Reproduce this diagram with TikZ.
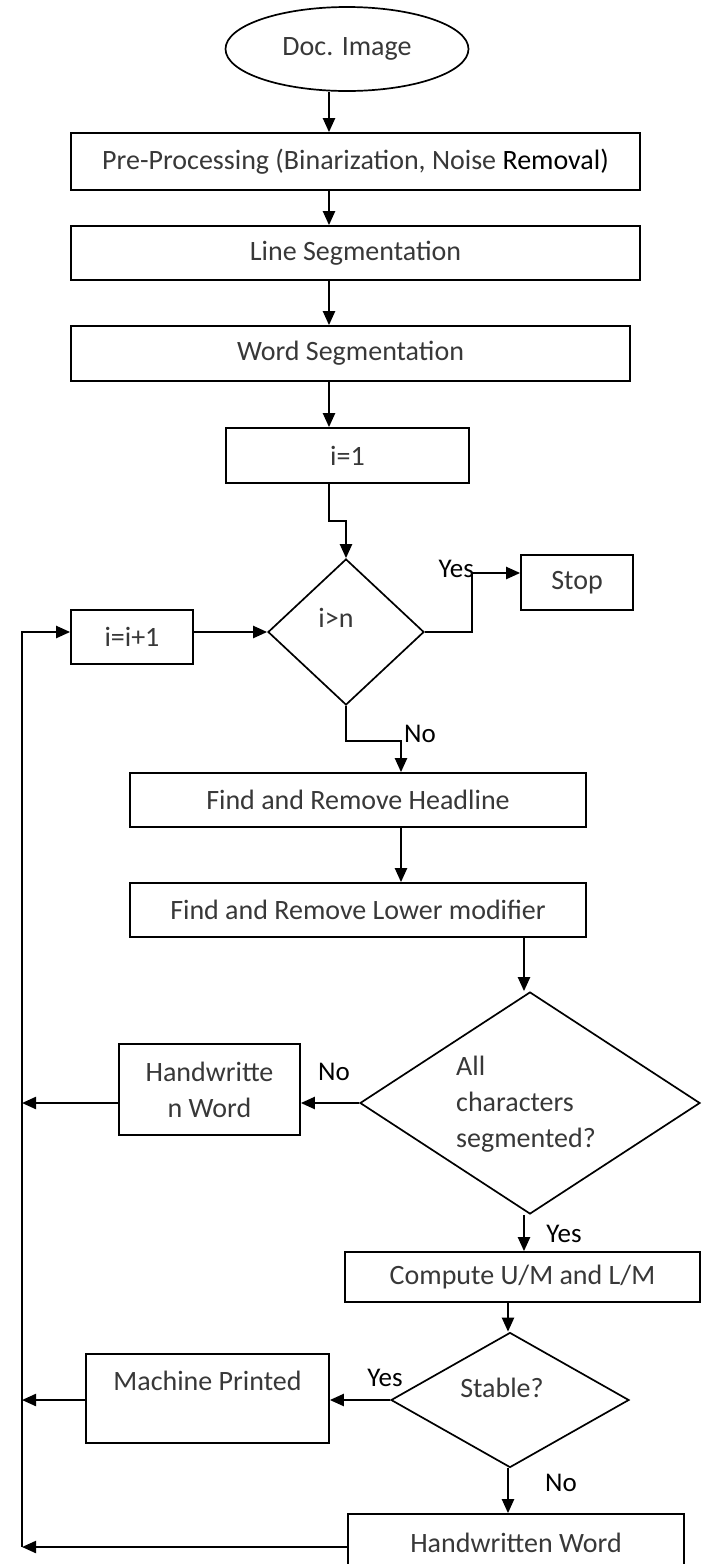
\documentclass[tikz,border=0pt]{standalone}
\usepackage{fontspec}
\setmainfont{Carlito}
\usetikzlibrary{shapes.geometric,arrows.meta}
\tikzset{
  box/.style={draw=black, line width=1.7pt, rectangle, inner sep=0pt, font=\fontsize{28}{36}\selectfont, text=black!78, align=center},
  dia/.style={draw=black, line width=1.7pt, diamond, inner sep=0pt},
  ell/.style={draw=black, line width=1.7pt, ellipse, inner sep=0pt, font=\fontsize{28}{36}\selectfont, text=black!78},
  txt/.style={font=\fontsize{28}{36}\selectfont, text=black!78, inner sep=0pt},
  lbl/.style={font=\fontsize{27}{30}\selectfont, text=black, inner sep=0pt},
  arr/.style={line width=2.2pt, -{Triangle[length=14pt,width=12pt]}},
  ln/.style={line width=2.2pt}
}
\begin{document}
\begin{tikzpicture}[x=1pt,y=-1pt]
\useasboundingbox (0,0) rectangle (703,1564);
\fill[white] (0,0) rectangle (703,1564);
\clip (0,0) rectangle (703,1564);

% column coordinates
\coordinate (cA) at (329,0);
\coordinate (cB) at (401,0);
\coordinate (cC) at (524,0);
\coordinate (cD) at (508,0);
\coordinate (loopTop) at (22,632);
\coordinate (loopBot) at (22,1547);

% nodes
\node[ell, minimum width=243pt, minimum height=84pt] (doc) at (347,49) {Doc. Image};
\node[box, minimum width=569pt, minimum height=57pt] (pre) at (355.5,161.5) {Pre-Processing (Binarization, Noise {\color{black}Removal)}};
\node[box, minimum width=569pt, minimum height=54pt] (line) at (355.5,253) {Line Segmentation};
\node[box, minimum width=559pt, minimum height=55pt] (word) at (350.5,353.5) {Word Segmentation};
\node[box, minimum width=243pt, minimum height=55pt] (i1) at (347.5,455.5) {i=1};
\node[dia, minimum width=156pt, minimum height=146pt] (d1) at (346,632) {};
\node[txt] (d1t) at (336,618) {i>n};
\node[box, minimum width=112pt, minimum height=55pt] (stop) at (577,582.5) {Stop};
\node[box, minimum width=122pt, minimum height=54pt] (inc) at (132,637) {i=i+1};
\node[box, minimum width=456pt, minimum height=54pt] (head) at (358,800) {Find and Remove Headline};
\node[box, minimum width=456pt, minimum height=54pt] (lower) at (358,910) {Find and Remove Lower modifier};
\node[dia, minimum width=340pt, minimum height=222pt] (d2) at (530,1103) {};
\node[txt, align=left, anchor=west] (d2t) at (456,1104) {All\\characters\\segmented?};
\node[box, minimum width=181pt, minimum height=91pt] (hw1) at (209.5,1089.5) {Handwritte\\n Word};
\node[box, minimum width=355pt, minimum height=50pt] (comp) at (522.5,1277) {Compute U/M and L/M};
\node[dia, minimum width=238pt, minimum height=135pt] (d3) at (510,1400) {};
\node[txt] (d3t) at (502,1388) {Stable?};
\node[box, minimum width=243pt, minimum height=89pt] (mp) at (207.5,1398.5) {};
\node[txt] (mpt) at (207.5,1381) {Machine Printed};
\node[box, minimum width=336pt, minimum height=58pt] (hw2) at (516,1543) {Handwritten Word};

% connectors
\draw[arr] (doc.south -| cA) -- (pre.north -| cA);
\draw[arr] (pre.south -| cA) -- (line.north -| cA);
\draw[arr] (line.south -| cA) -- (word.north -| cA);
\draw[arr] (word.south -| cA) -- (i1.north -| cA);
\coordinate (k0) at (329,521);
\draw[arr] (i1.south -| cA) -- (k0) -| (d1.north);
\coordinate (yesC) at (472,573);
\draw[arr] (d1.east) -| (yesC) -- (yesC -| stop.west);
\node[lbl, anchor=base east] (yes1) at (474,577) {Yes};
\draw[arr] (inc.east |- d1.west) -- (d1.west);
\coordinate (k1) at (401,741);
\draw[arr] (d1.south) |- (k1) -- (head.north -| k1);
\node[lbl, anchor=base west] (no1) at (404,742) {No};
\draw[arr] (head.south -| cB) -- (lower.north -| cB);
\draw[arr] (lower.south -| cC) -- (d2.north -| cC);
\draw[arr] (d2.west) -- (d2.west -| hw1.east);
\node[lbl] (no2) at (334,1072) {No};
\draw[arr] (hw1.west |- d2.west) -- (loopTop |- d2.west);
\draw[arr] (d2.south -| cC) -- (comp.north -| cC);
\node[lbl] (yes2) at (564,1234) {Yes};
\draw[arr] (comp.south -| cD) -- (d3.north -| cD);
\draw[arr] (d3.west) -- (d3.west -| mp.east);
\node[lbl] (yes3) at (385,1378) {Yes};
\draw[arr] (mp.west |- d3.west) -- (loopTop |- d3.west);
\draw[arr] (d3.south -| cD) -- (hw2.north -| cD);
\node[lbl] (no3) at (561,1483) {No};
\draw[arr] (hw2.west |- loopBot) -- (loopBot);
\draw[arr] (loopBot) -- (loopTop) -- (inc.west |- loopTop);
\end{tikzpicture}
\end{document}
